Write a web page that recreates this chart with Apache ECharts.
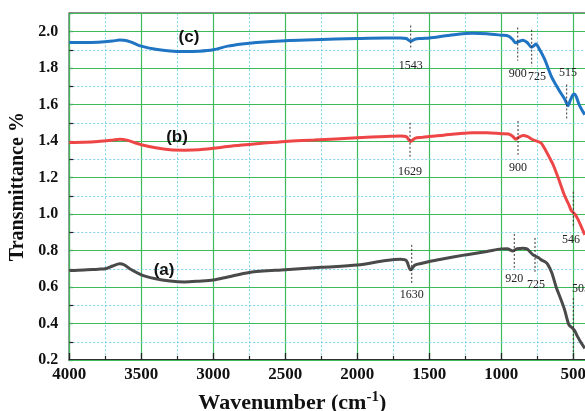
<!DOCTYPE html>
<html><head><meta charset="utf-8">
<script src="https://cdn.jsdelivr.net/npm/echarts@6/dist/echarts.min.js"></script>
<style>html,body{margin:0;padding:0;background:#fff}#c{width:585px;height:411px}</style>
</head><body><div id="c"></div>
<script>
// ---- Data ----
const wnC = [4000,3900,3800,3700,3650,3600,3550,3500,3400,3300,3200,3100,3000,2900,2800,2700,2500,2300,2000,1800,1700,1660,1630,1600,1550,1500,1400,1300,1200,1100,1000,950,920,900,880,850,820,790,770,760,740,700,650,600,560,537,520,505,494,480,460,440,420];
const valC = [1.94,1.94,1.942,1.948,1.953,1.95,1.935,1.92,1.903,1.893,1.89,1.892,1.9,1.92,1.932,1.94,1.95,1.955,1.962,1.965,1.965,1.962,1.947,1.958,1.962,1.965,1.975,1.985,1.99,1.988,1.98,1.975,1.955,1.938,1.945,1.952,1.94,1.914,1.925,1.932,1.91,1.85,1.75,1.68,1.63,1.594,1.625,1.65,1.658,1.645,1.6,1.57,1.545];

const wnB = [4000,3900,3800,3700,3650,3600,3550,3500,3400,3300,3200,3100,3000,2900,2800,2700,2500,2300,2000,1800,1700,1660,1630,1600,1550,1500,1400,1300,1200,1100,1000,950,920,900,880,850,820,780,725,700,670,640,600,560,530,515,505,490,470,450,420];
const valB = [1.392,1.393,1.397,1.405,1.41,1.405,1.392,1.38,1.363,1.352,1.35,1.352,1.36,1.37,1.378,1.385,1.398,1.405,1.418,1.425,1.428,1.424,1.398,1.415,1.42,1.425,1.432,1.44,1.445,1.445,1.44,1.438,1.425,1.41,1.42,1.43,1.425,1.407,1.39,1.36,1.316,1.27,1.188,1.1,1.05,1.02,1.012,1.0,0.975,0.94,0.886];

const wnA = [4000,3900,3800,3750,3700,3650,3620,3580,3500,3400,3300,3200,3100,3000,2900,2750,2500,2250,2000,1800,1700,1660,1630,1600,1550,1500,1400,1250,1100,1000,960,920,890,850,820,780,740,725,700,680,650,620,590,560,530,505,490,470,450,420];
const valA = [0.69,0.693,0.698,0.70,0.715,0.727,0.722,0.70,0.667,0.645,0.633,0.628,0.632,0.638,0.655,0.68,0.695,0.708,0.72,0.745,0.752,0.745,0.694,0.72,0.73,0.74,0.755,0.776,0.795,0.809,0.81,0.798,0.81,0.812,0.808,0.776,0.76,0.75,0.74,0.727,0.68,0.602,0.54,0.474,0.392,0.374,0.36,0.328,0.3,0.264];

// Peak annotations: dashed line position/top/bottom, label position and text
const annText   = ['1543','900','725','515','1629','900','546','1630','920','725','505'];
const annWn     = [1629, 886, 789, 546, 1634, 884, 500, 1622, 910, 766, 500];
const annTop    = [2.033,2.022,2.01,1.71,1.50,1.51,1.122,0.831,0.891,0.869,0.54];
const annBottom = [1.90,1.84,1.81,1.517,1.314,1.325,0.924,0.622,0.705,0.683,0.2];
const annLabWn  = [1629, 886, 752, 537, 1634, 884, 516, 1622, 910, 759, 446];
const annLabY   = [1.81,1.77,1.753,1.775,1.232,1.254,0.858,0.557,0.644,0.611,0.589];

const seriesNames = ['(a)','(b)','(c)'];
const nameWn  = [3342, 3252, 3169];
const nameVal = [0.694, 1.418, 1.967];

const xTicks = [4000,3500,3000,2500,2000,1500,1000,500];

const pair = (w, v) => w.map((x, i) => [x, v[i]]);
const chart = echarts.init(document.getElementById('c'));
const serif = "'Liberation Serif','Times New Roman',serif";

chart.setOption({
  animation: false,
  backgroundColor: '#fff',
  grid: { left: 69.3, top: 13.3, bottom: 51, right: -60.3, containLabel: false, outerBoundsMode: 'none',
    show: true, borderColor: '#222', borderWidth: 1.5, backgroundColor: 'transparent' },
  xAxis: {
    type: 'value', inverse: true, min: 0, max: 4000, interval: 500,
    name: 'Wavenumber (cm{sup|-1})', nameLocation: 'middle', nameGap: 30,
    nameTextStyle: { fontFamily: serif, fontWeight: 'bold', fontSize: 22, color: '#111', padding: [0, 130, 0, 0],
      rich: { sup: { fontFamily: serif, fontWeight: 'bold', fontSize: 15, color: '#111', verticalAlign: 'top', padding: [0,0,11,0] } } },
    axisLine: { lineStyle: { color: '#222', width: 1.5 } },
    axisTick: { inside: true, length: 7, lineStyle: { color: '#222', width: 1.3 } },
    minorTick: { show: true, splitNumber: 2, length: 4, lineStyle: { color: '#222', width: 1.2 } },
    axisLabel: { fontFamily: serif, fontWeight: 'bold', fontSize: 17, color: '#111', margin: 6,
      formatter: v => xTicks.indexOf(v) >= 0 ? String(v) : '' },
    splitLine: { show: true, lineStyle: { color: '#3dbb5a', width: 1.2 } },
    minorSplitLine: { show: true, lineStyle: { color: '#7fd0ea', width: 1, type: [2, 2] } }
  },
  yAxis: [{
    type: 'value', min: 0.2, max: 2.1, interval: 0.2, z: 3,
    name: 'Transmittance %', nameLocation: 'middle', nameGap: 38,
    nameTextStyle: { fontFamily: serif, fontWeight: 'bold', fontSize: 20, color: '#111' },
    axisLine: { show: true, lineStyle: { color: '#222', width: 1.5 } },
    axisTick: { inside: true, length: 7, lineStyle: { color: '#222', width: 1.3 } },
    axisLabel: { fontFamily: serif, fontWeight: 'bold', fontSize: 16, color: '#111', margin: 11,
      showMaxLabel: false, formatter: v => v.toFixed(1) },
    splitLine: { show: true, lineStyle: { color: '#3dbb5a', width: 1.2 } }
  }, {
    type: 'value', min: 0.2, max: 2.1, interval: 0.1, position: 'left', z: 1,
    axisLine: { show: false },
    axisTick: { show: true, inside: true, length: 4, lineStyle: { color: '#222', width: 1.2 } },
    axisLabel: { show: false },
    splitLine: { show: true, lineStyle: { color: '#7fd0ea', width: 1, type: [2, 2] } }
  }],
  series: [
    { type: 'line', name: '(a)', data: pair(wnA, valA), smooth: 0.3, showSymbol: false, z: 5,
      lineStyle: { color: '#4a4a4a', width: 3 } },
    { type: 'line', name: '(b)', data: pair(wnB, valB), smooth: 0.3, showSymbol: false, z: 5,
      lineStyle: { color: '#ee4646', width: 3 } },
    { type: 'line', name: '(c)', data: pair(wnC, valC), smooth: 0.3, showSymbol: false, z: 5,
      lineStyle: { color: '#1f74c4', width: 3 } },
    { type: 'custom', z: 6, silent: true,
      data: annWn.map((w, i) => [w, annTop[i], annBottom[i], annLabWn[i], annLabY[i]]),
      renderItem: (params, api) => {
        const p1 = api.coord([api.value(0), api.value(1)]);
        const p2 = api.coord([api.value(0), api.value(2)]);
        const pl = api.coord([api.value(3), api.value(4)]);
        return { type: 'group', children: [
          { type: 'line', shape: { x1: p1[0], y1: p1[1], x2: p2[0], y2: p2[1] },
            style: { stroke: '#333', lineWidth: 1, lineDash: [2, 2] } },
          { type: 'text', x: pl[0], y: pl[1],
            style: { text: annText[params.dataIndex], fill: '#222', font: "12px " + serif, align: 'center', verticalAlign: 'middle' } }
        ]};
      }
    },
    { type: 'custom', z: 6, silent: true,
      data: nameWn.map((w, i) => [w, nameVal[i]]),
      renderItem: (params, api) => {
        const p = api.coord([api.value(0), api.value(1)]);
        return { type: 'text', x: p[0], y: p[1],
          style: { text: seriesNames[params.dataIndex], fill: '#111', font: "bold 17px 'Liberation Sans',Arial,sans-serif", align: 'center', verticalAlign: 'middle' } };
      }
    }
  ]
});
</script></body></html>
